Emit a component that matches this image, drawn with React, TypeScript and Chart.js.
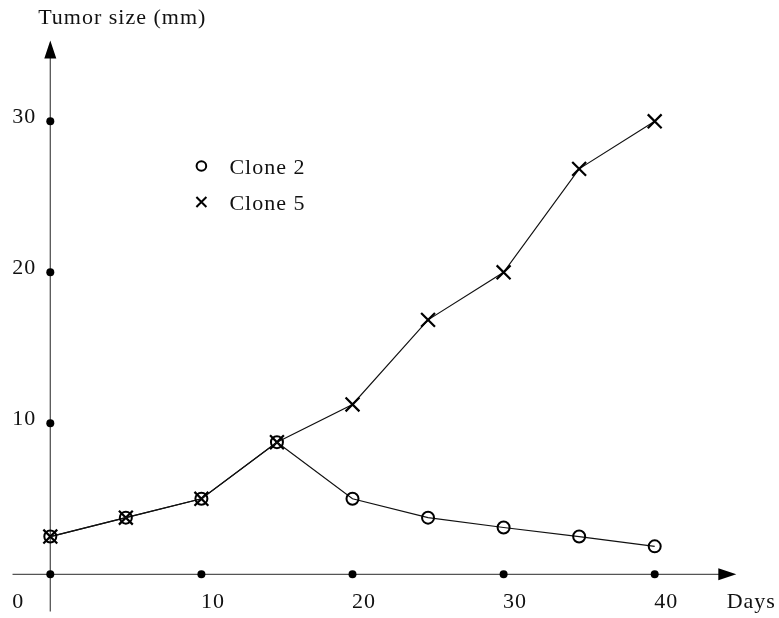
import React, { useEffect, useRef } from "react";
import { Chart, registerables } from "chart.js";

Chart.register(...registerables);

const days = [0, 5, 10, 15, 20, 25, 30, 35, 40];
const clone2 = [2.5, 3.75, 5, 8.75, 5, 3.75, 3.1, 2.5, 1.85];
const clone5 = [2.5, 3.75, 5, 8.75, 11.25, 16.85, 20, 26.85, 30];
const xTicks = [0, 10, 20, 30, 40];
const yTicks = [10, 20, 30];
const seriesNames = ["Clone 2", "Clone 5"];
const yTitle = "Tumor size (mm)";
const xTitle = "Days";

const FONT = "22px 'Liberation Serif', 'Times New Roman', serif";

const axesPlugin = {
  id: "texAxes",
  beforeDatasetsDraw(chart: any) {
    const ctx = chart.ctx as CanvasRenderingContext2D;
    const xs = chart.scales.x;
    const ys = chart.scales.y;
    const x0 = xs.getPixelForValue(0);
    const y0 = ys.getPixelForValue(0);
    const xLeft = xs.getPixelForValue(-2.5);
    const xTip = xs.getPixelForValue(45.4);
    const yBottom = ys.getPixelForValue(-2.47);
    const yTip = ys.getPixelForValue(35.35);
    ctx.save();
    ctx.strokeStyle = "#555";
    ctx.lineWidth = 1.3;
    ctx.beginPath();
    ctx.moveTo(xLeft, y0);
    ctx.lineTo(xTip - 14, y0);
    ctx.moveTo(x0, yBottom);
    ctx.lineTo(x0, yTip + 14);
    ctx.stroke();
    ctx.fillStyle = "#000";
    // x arrow
    ctx.beginPath();
    ctx.moveTo(xTip, y0);
    ctx.lineTo(xTip - 18, y0 - 6);
    ctx.lineTo(xTip - 18, y0 + 6);
    ctx.closePath();
    ctx.fill();
    // y arrow
    ctx.beginPath();
    ctx.moveTo(x0, yTip);
    ctx.lineTo(x0 - 6, yTip + 18);
    ctx.lineTo(x0 + 6, yTip + 18);
    ctx.closePath();
    ctx.fill();
    // tick dots
    const dot = (x: number, y: number) => {
      ctx.beginPath();
      ctx.arc(x, y, 4, 0, Math.PI * 2);
      ctx.fill();
    };
    xTicks.forEach((t) => dot(xs.getPixelForValue(t), y0));
    yTicks.forEach((t) => dot(x0, ys.getPixelForValue(t)));
    ctx.restore();
  },
  afterDraw(chart: any) {
    const ctx = chart.ctx as CanvasRenderingContext2D;
    const xs = chart.scales.x;
    const ys = chart.scales.y;
    const x0 = xs.getPixelForValue(0);
    const y0 = ys.getPixelForValue(0);
    ctx.save();
    ctx.font = FONT;
    (ctx as any).letterSpacing = "1px";
    ctx.fillStyle = "#111";
    ctx.textBaseline = "alphabetic";
    ctx.textAlign = "center";
    xTicks.forEach((t) => {
      const px = xs.getPixelForValue(t);
      if (t === 0) ctx.fillText(String(t), px - 32, y0 + 34);
      else ctx.fillText(String(t), px + 11.5, y0 + 34);
    });
    yTicks.forEach((t) => {
      const py = ys.getPixelForValue(t);
      ctx.fillText(String(t), x0 - 26, py + 2);
    });
    ctx.fillText(yTitle, x0 + 72, 23.5);
    ctx.fillText(xTitle, xs.getPixelForValue(45.4) + 15, y0 + 34);

    // legend
    const lx = xs.getPixelForValue(10);
    const ly1 = 166;
    const ly2 = 202;
    ctx.strokeStyle = "#000";
    ctx.lineWidth = 2;
    ctx.beginPath();
    ctx.arc(lx, ly1, 4.8, 0, Math.PI * 2);
    ctx.stroke();
    ctx.beginPath();
    ctx.moveTo(lx - 5, ly2 - 5);
    ctx.lineTo(lx + 5, ly2 + 5);
    ctx.moveTo(lx + 5, ly2 - 5);
    ctx.lineTo(lx - 5, ly2 + 5);
    ctx.stroke();
    ctx.textAlign = "left";
    ctx.fillText(seriesNames[0], lx + 28, ly1 + 7.5);
    ctx.fillText(seriesNames[1], lx + 28, ly2 + 7.5);
    ctx.restore();
  },
};

export default function App() {
  const ref = useRef<HTMLCanvasElement | null>(null);
  useEffect(() => {
    if (!ref.current) return;
    const pxPerUnitX = 15.11;
    const pxPerUnitY = 15.1;
    const W = 779;
    const H = 618;
    const ox = 50.3;
    const oy = 574.3;
    const chart = new Chart(ref.current, {
      type: "scatter",
      data: {
        datasets: [
          {
            label: seriesNames[0],
            data: days.map((d, i) => ({ x: d, y: clone2[i] })),
            showLine: true,
            borderColor: "#111",
            borderWidth: 1.2,
            pointStyle: "circle",
            pointRadius: 6,
            pointBorderWidth: 2,
            pointBorderColor: "#000",
            pointBackgroundColor: "rgba(255,255,255,0)",
          },
          {
            label: seriesNames[1],
            data: days.map((d, i) => ({ x: d, y: clone5[i] })),
            showLine: true,
            borderColor: "#111",
            borderWidth: 1.2,
            pointStyle: "crossRot",
            pointRadius: 9.8,
            pointBorderWidth: 2.2,
            pointBorderColor: "#000",
          },
        ],
      },
      options: {
        animation: false,
        responsive: false,
        layout: { padding: 0, autoPadding: false },
        plugins: {
          legend: { display: false },
          tooltip: { enabled: false },
          title: { display: false },
        },
        scales: {
          x: {
            type: "linear",
            display: false,
            min: -ox / pxPerUnitX,
            max: (W - ox) / pxPerUnitX,
          },
          y: {
            type: "linear",
            display: false,
            min: -(H - oy) / pxPerUnitY,
            max: oy / pxPerUnitY,
          },
        },
      },
      plugins: [axesPlugin],
    });
    return () => chart.destroy();
  }, []);
  return (
    <div style={{ position: "fixed", left: 0, top: 0, width: 779, height: 618, background: "#fff" }}>
      <canvas ref={ref} width={779} height={618} style={{ display: "block", width: 779, height: 618 }} />
    </div>
  );
}
